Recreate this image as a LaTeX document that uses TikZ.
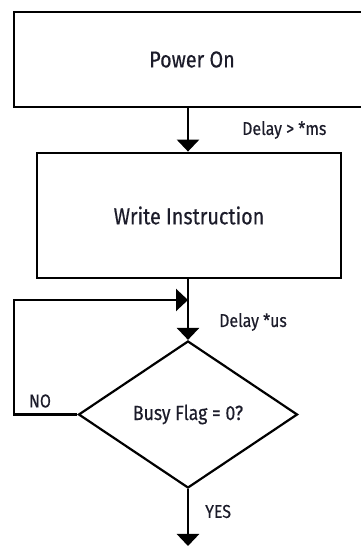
\documentclass[tikz,border=0pt]{standalone}
\usepackage{fontspec}
\setmainfont{Fira Sans}[FakeStretch=0.86,FakeBold=0.4]
\usepackage{tikz}
\usetikzlibrary{arrows.meta}
\usetikzlibrary{shapes.geometric}
\definecolor{txt}{HTML}{1C1C2A}

\begin{document}
\begin{tikzpicture}[x=1pt,y=1pt,
    box/.style={rectangle,draw,line width=2.8pt,inner sep=0pt,text=txt,font=\fontsize{23}{27}\selectfont},
    decision/.style={diamond,draw,line width=2.2pt,inner sep=0pt,text=txt,font=\fontsize{20.5}{24}\selectfont},
    flow/.style={line width=2.8pt,-{Triangle[width=22pt,length=12pt]}},
    note/.style={text=txt,font=\fontsize{18.5}{22}\selectfont,inner sep=0pt}]

    \clip (0,0) rectangle (361,546);

    \node[box,minimum width=356pt,minimum height=95pt]   (power) at (192, 486.5)  {Power On};
    \node[box,minimum width=304pt,minimum height=125pt]  (write) at (189, 330.5)  {Write Instruction};
    \node[decision,minimum width=219pt,minimum height=147pt] (busy) at (188, 131.5) {Busy Flag = 0?};

    \coordinate (c1)  at (14, 131.5);
    \coordinate (c2)  at (14, 246);
    \coordinate (c3)  at (188, 246);
    \coordinate (out) at (188, 0);

    \node[note,anchor=west] (ms)  at (242, 416) {Delay > *ms};
    \node[note,anchor=west] (us)  at (219, 224) {Delay *us};
    \node[note]             (no)  at (40, 145)  {NO};
    \node[note,anchor=west] (yes) at (205, 34.5) {YES};

    \draw[flow] (power.south -| c3) -- (write.north -| c3);
    \draw[flow] (write.south -| c3) -- (busy.north);
    \draw[flow,line width=2.2pt] (busy.west) -- (c1) -- (c2) -- (c3);
    \draw[flow] (busy.south) -- (out);
\end{tikzpicture}
\end{document}
